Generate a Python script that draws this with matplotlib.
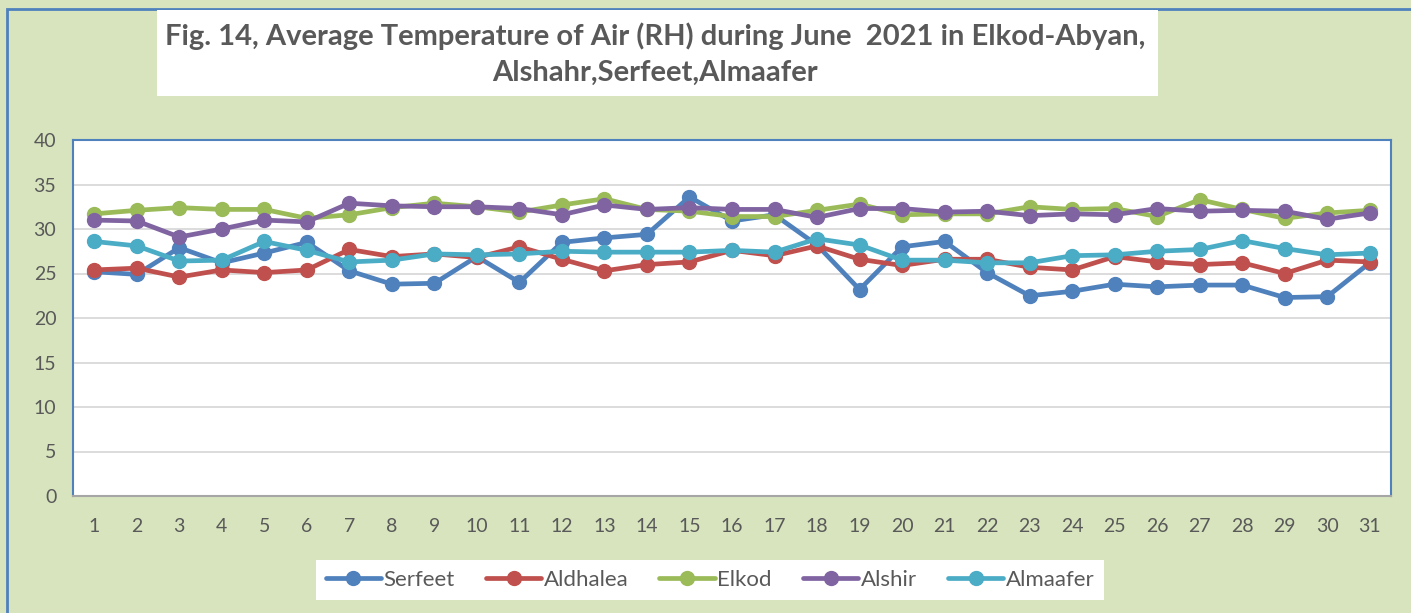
import matplotlib.pyplot as plt
from matplotlib.patches import Rectangle

plt.rcParams['font.family'] = ['Lato', 'DejaVu Sans']

days = list(range(1, 32))
serfeet = [25.2, 24.9, 27.9, 26.2, 27.3, 28.5, 25.3, 23.8, 23.9, 26.9, 24.0, 28.5, 29.0, 29.4, 33.6, 30.9,
           31.6, 28.2, 23.2, 28.0, 28.6, 25.1, 22.5, 23.0, 23.8, 23.5, 23.7, 23.7, 22.3, 22.4, 26.2]
aldhalea = [25.4, 25.6, 24.6, 25.4, 25.1, 25.4, 27.7, 26.9, 27.2, 26.8, 28.0, 26.6, 25.3, 26.0, 26.3, 27.6,
            27.0, 28.1, 26.6, 25.9, 26.6, 26.6, 25.7, 25.4, 26.9, 26.3, 26.0, 26.2, 25.0, 26.5, 26.3]
elkod = [31.7, 32.1, 32.4, 32.2, 32.2, 31.2, 31.6, 32.4, 32.9, 32.5, 31.9, 32.7, 33.4, 32.2, 32.0, 31.4,
         31.4, 32.1, 32.8, 31.6, 31.7, 31.7, 32.5, 32.2, 32.3, 31.4, 33.3, 32.2, 31.2, 31.8, 32.1]
alshir = [31.0, 30.9, 29.1, 30.0, 31.0, 30.8, 32.9, 32.6, 32.5, 32.5, 32.3, 31.6, 32.7, 32.2, 32.4, 32.2,
          32.2, 31.3, 32.3, 32.3, 31.9, 32.0, 31.5, 31.7, 31.6, 32.3, 32.0, 32.1, 32.0, 31.1, 31.8]
almaafer = [28.6, 28.1, 26.4, 26.5, 28.6, 27.6, 26.3, 26.5, 27.2, 27.1, 27.2, 27.5, 27.4, 27.4, 27.4, 27.6,
            27.4, 28.9, 28.2, 26.5, 26.5, 26.2, 26.2, 27.0, 27.1, 27.5, 27.7, 28.7, 27.8, 27.1, 27.3]

series = [("Serfeet", serfeet, "#4F81BD"),
          ("Aldhalea", aldhalea, "#C0504D"),
          ("Elkod", elkod, "#9BBB59"),
          ("Alshir", alshir, "#8064A2"),
          ("Almaafer", almaafer, "#4BACC6")]

bg = "#D7E4BD"
txt = "#595959"

fig = plt.figure(figsize=(14.11, 6.13), dpi=100, facecolor=bg)

# outer chart border (left and top visible)
fig.patches.append(Rectangle((7 / 1411, -0.05), 1.2, (613 - 9) / 613 + 0.05, transform=fig.transFigure,
                             facecolor='none', edgecolor='#4F81BD', linewidth=2))

ax = fig.add_axes([73 / 1411, (613 - 496) / 613, (1391 - 73) / 1411, (496 - 140) / 613])
ax.set_facecolor('white')
for name, vals, col in series:
    ax.plot(days, vals, color=col, linewidth=3.4, marker='o', markersize=10,
            solid_capstyle='round', label=name)

ax.set_xlim(0.5, 31.5)
ax.set_ylim(0, 40)
ax.set_yticks(range(0, 41, 5))
ax.set_xticks(days)
ax.grid(axis='y', color='#D9D9D9', linewidth=1.3)
ax.set_axisbelow(True)
ax.tick_params(length=0, labelsize=14, colors=txt)
ax.tick_params(axis='x', pad=16)
ax.tick_params(axis='y', pad=12)
for s in ax.spines.values():
    s.set_color('#4F81BD')
    s.set_linewidth(1.5)
ax.spines['bottom'].set_color('#A6A6A6')

# title box
fig.patches.append(Rectangle((157 / 1411, (613 - 96) / 613), (1158 - 157) / 1411, 86 / 613,
                             transform=fig.transFigure, facecolor='white', edgecolor='none'))
fig.text(655 / 1411, 1 - 36 / 613, "Fig. 14, Average Temperature of Air (RH) during June  2021 in Elkod-Abyan,",
         ha='center', va='center', fontsize=21, fontweight='bold', color=txt)
fig.text(655 / 1411, 1 - 73 / 613, "Alshahr,Serfeet,Almaafer",
         ha='center', va='center', fontsize=21, fontweight='bold', color=txt)

leg = fig.legend(loc='center', bbox_to_anchor=(710 / 1411, 1 - 580 / 613), ncol=5, frameon=True,
                 fancybox=False, fontsize=16, handlelength=2.5, columnspacing=1.4, handletextpad=0.1,
                 borderpad=0.45)
leg.get_frame().set_edgecolor('none')
leg.get_frame().set_facecolor('white')
leg.get_frame().set_alpha(1)
for t in leg.get_texts():
    t.set_color(txt)

fig.savefig('out.png', dpi=100, facecolor=bg)
